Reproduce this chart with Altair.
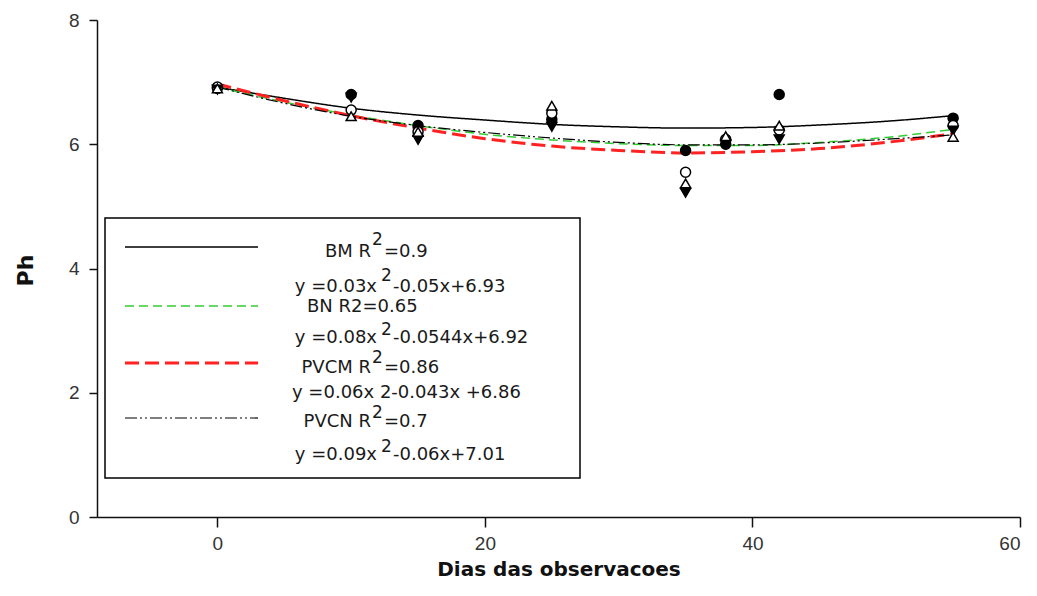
import altair as alt
import pandas as pd

# ---- observed points ----
days = [0, 10, 15, 25, 35, 38, 42, 55]
bm_obs = [6.90, 6.80, 6.30, 6.40, 5.90, 6.00, 6.80, 6.42]
bn_obs = [6.92, 6.55, 6.20, 6.50, 5.55, 6.08, 6.23, 6.30]
pvcm_obs = [6.88, 6.75, 6.07, 6.28, 5.22, 6.00, 6.08, 6.22]
pvcn_obs = [6.90, 6.45, 6.20, 6.62, 5.37, 6.13, 6.30, 6.12]

# ---- fitted curves ----
curve_x = [0, 5, 10, 15, 20, 25, 30, 35, 40, 45, 50, 55]
bm_fit = [6.92, 6.74, 6.58, 6.47, 6.39, 6.32, 6.28, 6.26, 6.27, 6.31, 6.37, 6.46]
bn_fit = [6.92, 6.68, 6.47, 6.30, 6.16, 6.07, 6.01, 5.98, 5.98, 6.03, 6.11, 6.24]
pvcm_fit = [6.97, 6.70, 6.46, 6.26, 6.09, 5.97, 5.90, 5.86, 5.88, 5.93, 6.03, 6.17]
pvcn_fit = [6.92, 6.66, 6.45, 6.30, 6.19, 6.10, 6.03, 5.99, 5.99, 6.02, 6.08, 6.15]

series = ["BM", "BN", "PVCM", "PVCN"]
obs = [bm_obs, bn_obs, pvcm_obs, pvcn_obs]
fits = [bm_fit, bn_fit, pvcm_fit, pvcn_fit]

styles = {
    "BM": dict(color="#000000", dash=[1, 0], width=1.5, shape="circle", filled=True),
    "BN": dict(color="#33cc33", dash=[9, 5], width=1.5, shape="circle", filled=False),
    "PVCM": dict(color="#ff2222", dash=[14, 6], width=3, shape="triangle-down", filled=True),
    "PVCN": dict(color="#000000", dash=[12, 3, 2, 3, 2, 3], width=1.2, shape="triangle-up", filled=False),
}

W, H = 923, 497
xscale = alt.Scale(domain=[-9, 60], nice=False, zero=False)
yscale = alt.Scale(domain=[0, 8], nice=False)

x_axis = alt.Axis(values=[0, 20, 40, 60], tickSize=10, labelPadding=7, labelFontSize=19,
                  title="Dias das observacoes", titleFontSize=20, titleFont="DejaVu Sans",
                  titleFontWeight="bold", titleY=52, titleBaseline="middle", titleColor="#111")
y_axis = alt.Axis(values=[0, 2, 4, 6, 8], tickSize=8, labelPadding=10, labelFontSize=19,
                  title="Ph", titleFontSize=22, titleFont="DejaVu Sans", titleFontWeight="bold",
                  titleX=-72, titleY=250, titleBaseline="middle", titleAlign="center", titleColor="#111")

X = alt.X("x:Q", scale=xscale, axis=x_axis)
Y = alt.Y("y:Q", scale=yscale, axis=y_axis)

layers = []
for name, f in zip(series, fits):
    st = styles[name]
    dfc = pd.DataFrame({"x": curve_x, "y": f})
    layers.append(alt.Chart(dfc).mark_line(color=st["color"], strokeDash=st["dash"],
                                           strokeWidth=st["width"], interpolate="monotone").encode(x=X, y=Y))

for name, o in zip(series, obs):
    st = styles[name]
    dfp = pd.DataFrame({"x": days, "y": o})
    layers.append(alt.Chart(dfp).mark_point(shape=st["shape"], filled=st["filled"], size=100,
                                            color="#000000", fill="#000000" if st["filled"] else "#ffffff",
                                            stroke="#000000", strokeWidth=1.5, opacity=1).encode(x=X, y=Y))

# ---- legend (pixel layout inside the plot area) ----
one = pd.DataFrame({"a": [0]})
layers.append(alt.Chart(one).mark_rect(fill="white", stroke="black", strokeWidth=1.5).encode(
    x=alt.value(8), x2=alt.value(483), y=alt.value(198), y2=alt.value(458)))

leg_y = [227, 286, 343, 398]
for name, yy in zip(series, leg_y):
    st = styles[name]
    layers.append(alt.Chart(one).mark_rule(
        color=st["color"], strokeDash=st["dash"], strokeWidth=st["width"]).encode(
        x=alt.value(28), x2=alt.value(161), y=alt.value(yy)))

frags = [
    # text, x, y, align, superscript
    ("BM  R", 274, 232, "right", False), ("2", 275, 220, "left", True), ("=0.9", 287, 232, "left", False),
    ("y =0.03x", 280, 267, "right", False), ("2", 284, 256, "left", True), ("-0.05x+6.93", 296, 267, "left", False),
    ("BN  R2=0.65", 210, 287, "left", False),
    ("y =0.08x", 280, 318, "right", False), ("2", 284, 310, "left", True), ("-0.0544x+6.92", 296, 318, "left", False),
    ("PVCM R", 274, 348, "right", False), ("2", 275, 338, "left", True), ("=0.86", 287, 348, "left", False),
    ("y =0.06x 2-0.043x +6.86", 195, 373, "left", False),
    ("PVCN R", 274, 402, "right", False), ("2", 275, 393, "left", True), ("=0.7", 287, 402, "left", False),
    ("y =0.09x", 280, 435, "right", False), ("2", 284, 427, "left", True), ("-0.06x+7.01", 296, 435, "left", False),
]
for t, xx, yy, al, sup in frags:
    layers.append(alt.Chart(pd.DataFrame({"t": [t]})).mark_text(
        align=al, baseline="middle", font="DejaVu Sans", fontSize=18 if not sup else 17,
        color="#1a1a1a").encode(x=alt.value(xx), y=alt.value(yy), text="t:N"))

chart = alt.layer(*layers).properties(
    width=W, height=H, autosize="none",
    padding={"left": 89, "top": 12, "right": 9, "bottom": 62},
).configure_view(stroke=None).configure_axis(
    grid=False, domainColor="#111", domainWidth=1.5, tickColor="#111", tickWidth=1.5,
    labelColor="#333", labelFont="Liberation Sans",
)

chart.save("out.html", embed_options={"renderer": "svg", "actions": False})
